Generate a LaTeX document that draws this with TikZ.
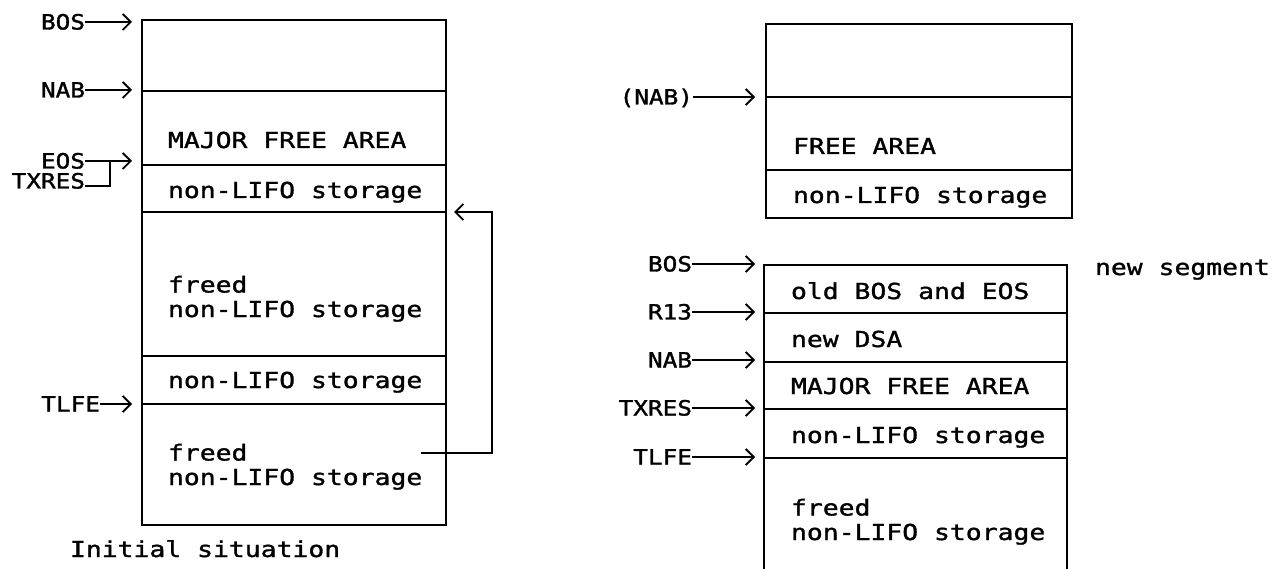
\documentclass[tikz,border=0pt]{standalone}
\usepackage{fontspec}
\newfontfamily\monof[FakeStretch=1.2,FakeBold=1.3]{DejaVu Sans Mono}
\newfontfamily\labf[FakeStretch=1.16,FakeBold=1.5]{DejaVu Sans Mono}
\usetikzlibrary{arrows.meta}
\begin{document}
\begin{tikzpicture}[x=1pt,y=-1pt,
  every node/.style={font=\monof\fontsize{22}{24.5}\selectfont, inner sep=0pt, outer sep=0pt},
  cell/.style={draw, line width=1.6pt, anchor=north west},
  txt/.style={anchor=base west},
  lab/.style={anchor=east, font=\labf\fontsize{21}{24}\selectfont, text height=15pt, text depth=0pt},
  wire/.style={line width=1.4pt},
  arr/.style={line width=1.4pt, -{Straight Barb[length=8pt,width=16pt,line width=1.8pt]}}]
\fill[white] (0,0) rectangle (1277,569);
\useasboundingbox (0,0) rectangle (1277,569);

% ---------- left box ----------
\node[cell, minimum width=304pt, minimum height=71pt] (L1) at (142,20) {};
\node[cell, minimum width=304pt, minimum height=74pt] (L2) at (142,91) {};
\node[cell, minimum width=304pt, minimum height=47pt] (L3) at (142,165) {};
\node[cell, minimum width=304pt, minimum height=144pt] (L4) at (142,212) {};
\node[cell, minimum width=304pt, minimum height=48pt] (L5) at (142,356) {};
\node[cell, minimum width=304pt, minimum height=121pt] (L6) at (142,404) {};

\node[txt] (tL2) at (168,148) {MAJOR FREE AREA};
\node[txt] (tL3) at (168,198) {non-LIFO storage};
\node[txt, align=left] (tL4) at (168,317) {freed\\non-LIFO storage};
\node[txt] (tL5) at (168,388) {non-LIFO storage};
\node[txt, align=left] (tL6) at (168,485) {freed\\non-LIFO storage};
\node[txt] (cap) at (70,557) {Initial situation};

% left labels
\node[lab] (bosL) at (85,22) {BOS};
\coordinate (bosLt) at (132,22);
\draw[arr] (bosL.east) -- (bosLt);
\node[lab] (nabL) at (85,90) {NAB};
\coordinate (nabLt) at (132,90);
\draw[arr] (nabL.east) -- (nabLt);
\node[lab] (eosL) at (85,161) {EOS};
\coordinate (eosLt) at (132,161);
\draw[arr] (eosL.east) -- (eosLt);
\node[lab] (txresL) at (85,181) {TXRES};
\coordinate (brkT) at (110,161);
\coordinate (brkB) at (110,186);
\draw[wire] (txresL.east |- brkB) -- (brkB) -- (brkT);
\node[lab] (tlfeL) at (100,404) {TLFE};
\coordinate (tlfeLt) at (132,404);
\draw[arr] (tlfeL.east) -- (tlfeLt);

% return arrow
\coordinate (retS) at (421,453);
\coordinate (retC) at (492,453);
\coordinate (retE) at (454,212);
\draw[arr] (retS) -- (retC) |- (retE);

% ---------- right top box ----------
\node[cell, minimum width=306pt, minimum height=73pt] (T1) at (766,24) {};
\node[cell, minimum width=306pt, minimum height=73pt] (T2) at (766,97) {};
\node[cell, minimum width=306pt, minimum height=48pt] (T3) at (766,170) {};
\node[txt] (tT2) at (793,154) {FREE AREA};
\node[txt] (tT3) at (793,203) {non-LIFO storage};
\node[lab] (nabT) at (693,97) {(NAB)};
\coordinate (nabTt) at (755,97);
\draw[arr] (nabT.east) -- (nabTt);

% ---------- right bottom box ----------
\node[cell, minimum width=303pt, minimum height=48pt] (B1) at (764,265) {};
\node[cell, minimum width=303pt, minimum height=49pt] (B2) at (764,313) {};
\node[cell, minimum width=303pt, minimum height=47pt] (B3) at (764,362) {};
\node[cell, minimum width=303pt, minimum height=49pt] (B4) at (764,409) {};
\coordinate (B5l) at (764,569);
\coordinate (B5r) at (1067,569);
\draw[line width=1.6pt] (B4.south west) -- (B5l);
\draw[line width=1.6pt] (B4.south east) -- (B5r);

\node[txt] (tB1) at (791,299) {old BOS and EOS};
\node[txt] (tB2) at (791,347) {new DSA};
\node[txt] (tB3) at (791,394) {MAJOR FREE AREA};
\node[txt] (tB4) at (791,443) {non-LIFO storage};
\node[txt, align=left] (tB5) at (791,540) {freed\\non-LIFO storage};
\node[txt] (seg) at (1095,275) {new segment};

\node[lab] (bosR) at (692,264) {BOS};
\coordinate (bosRt) at (755,264);
\draw[arr] (bosR.east) -- (bosRt);
\node[lab] (r13R) at (692,312) {R13};
\coordinate (r13Rt) at (755,312);
\draw[arr] (r13R.east) -- (r13Rt);
\node[lab] (nabR) at (692,360) {NAB};
\coordinate (nabRt) at (755,360);
\draw[arr] (nabR.east) -- (nabRt);
\node[lab] (txresR) at (692,408) {TXRES};
\coordinate (txresRt) at (755,408);
\draw[arr] (txresR.east) -- (txresRt);
\node[lab] (tlfeR) at (692,457) {TLFE};
\coordinate (tlfeRt) at (755,457);
\draw[arr] (tlfeR.east) -- (tlfeRt);
\end{tikzpicture}
\end{document}
